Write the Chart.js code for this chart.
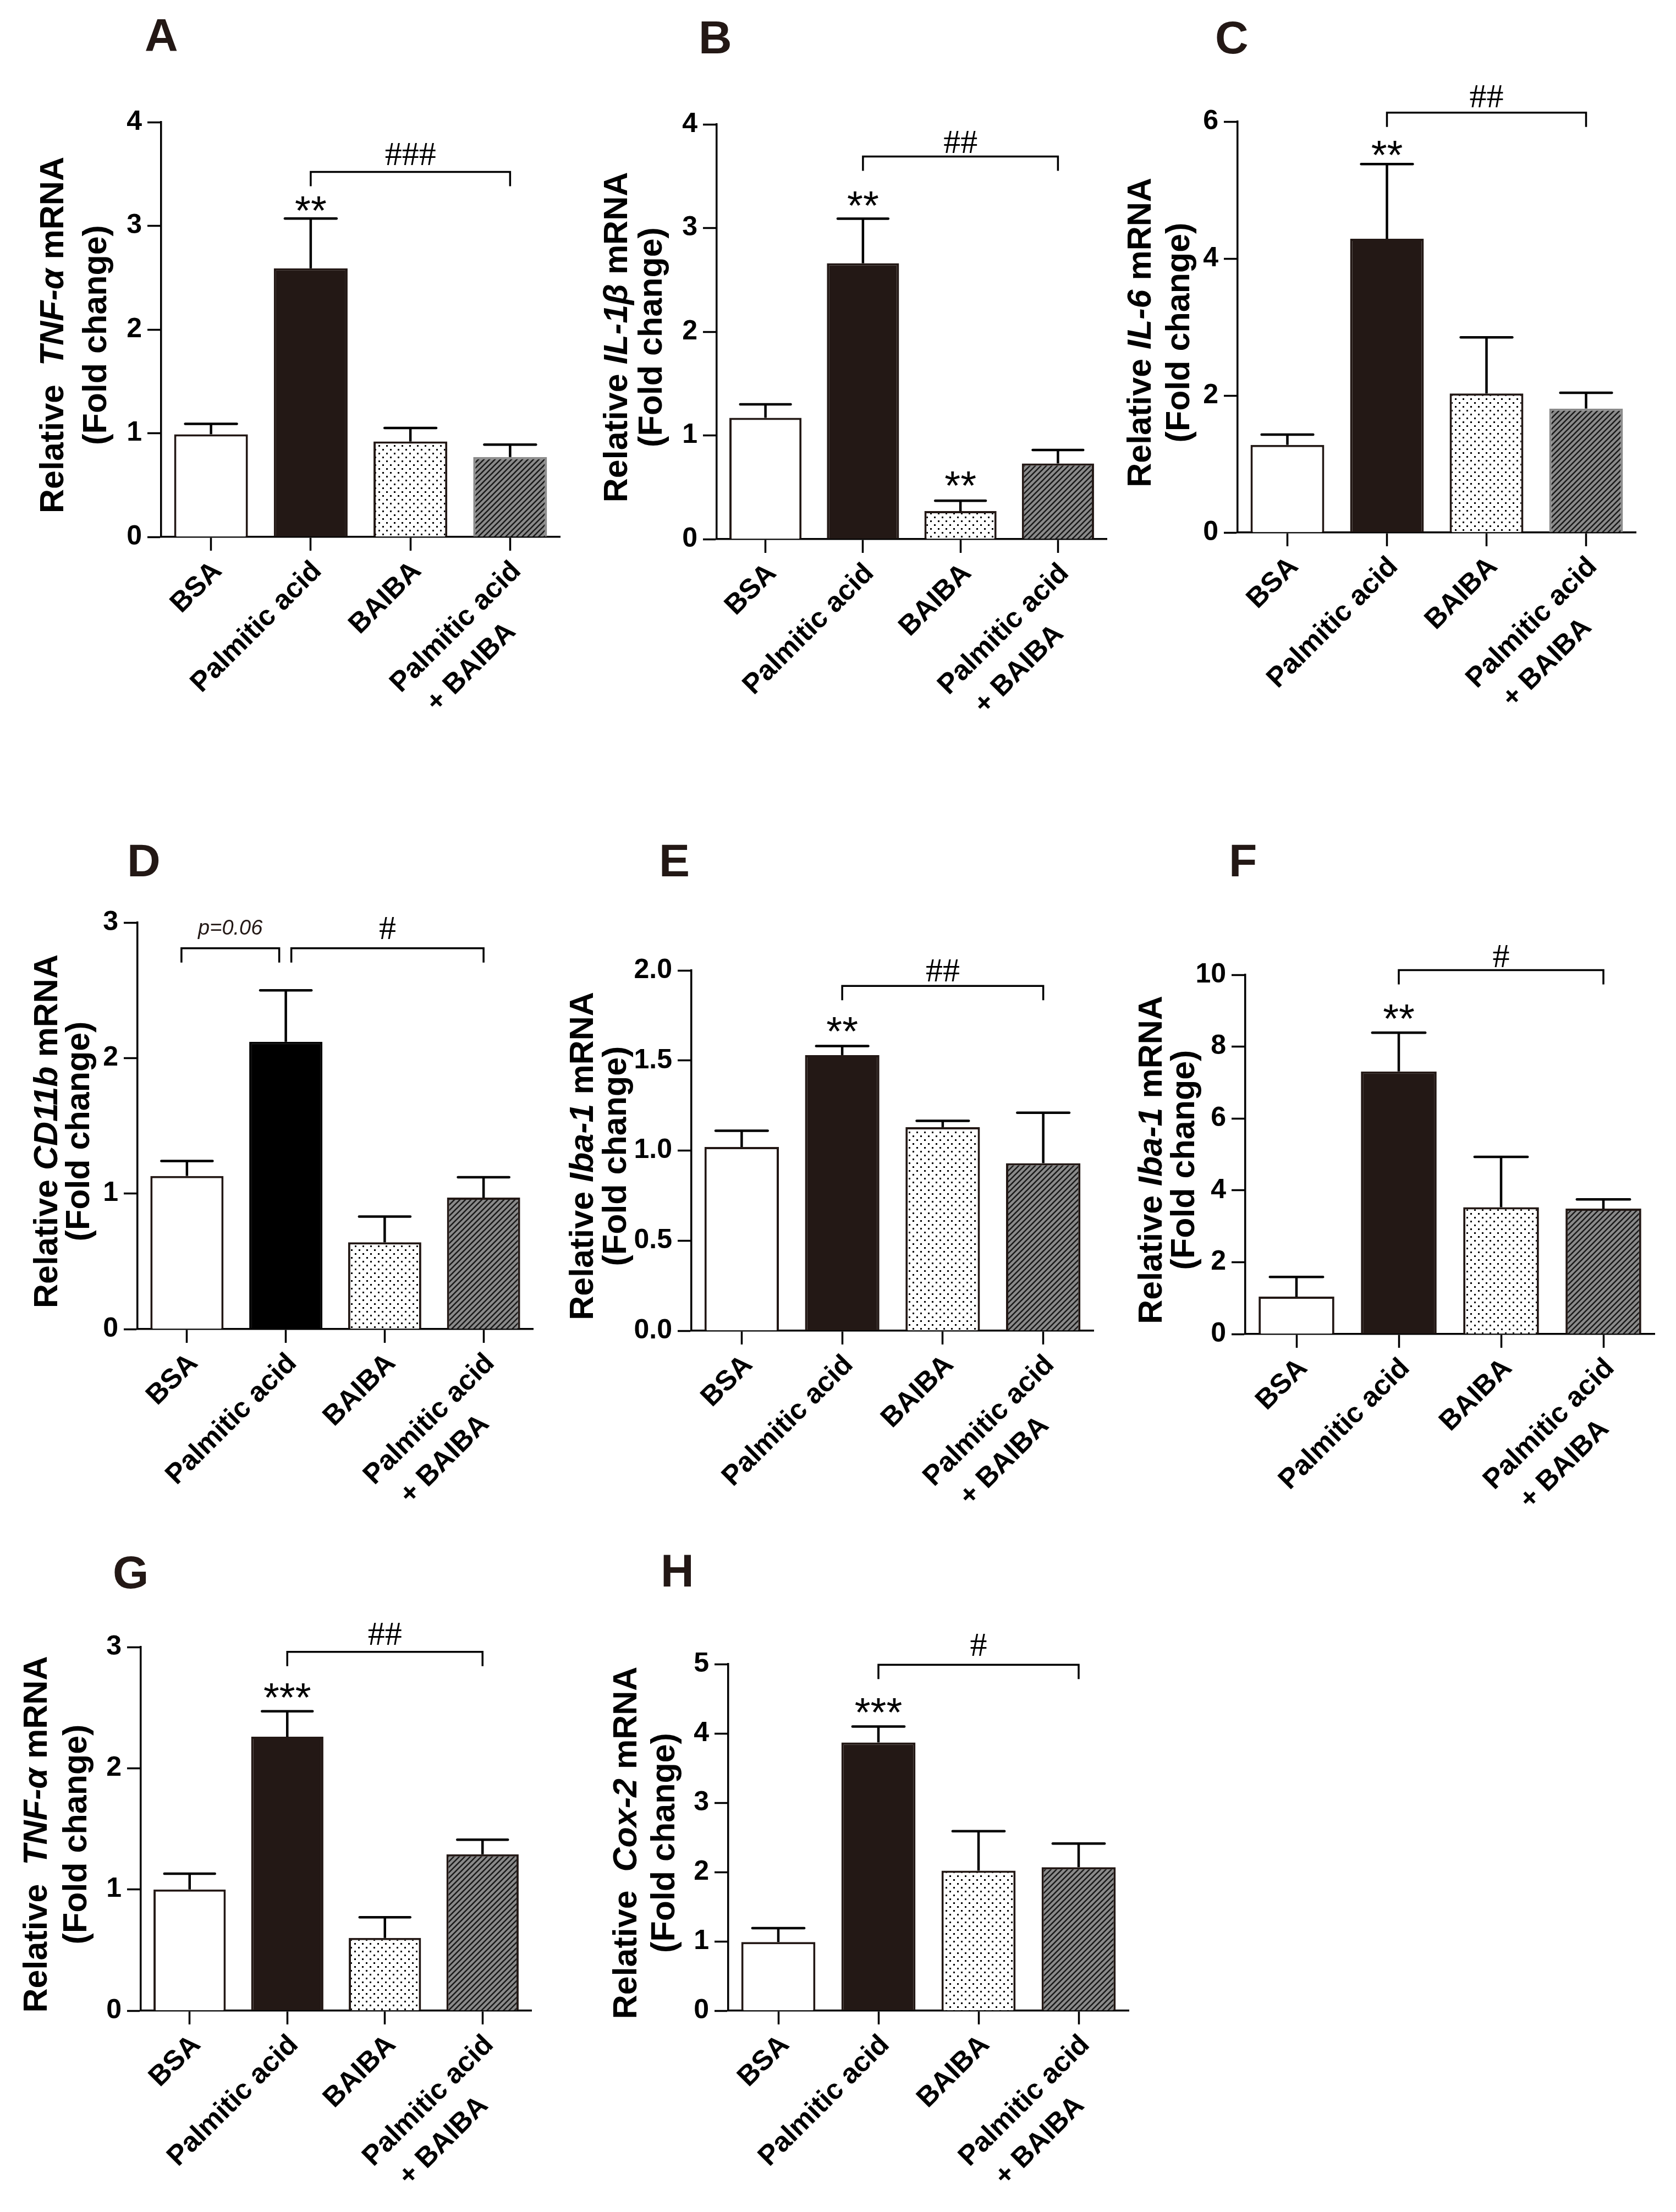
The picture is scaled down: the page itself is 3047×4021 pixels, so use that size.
<!DOCTYPE html>
<html>
<head>
<meta charset="utf-8">
<title>BAIBA mRNA panels</title>
<script src="https://cdn.jsdelivr.net/npm/chart.js@4.4.1/dist/chart.umd.min.js"></script>
<style>
    html, body { margin: 0; padding: 0; background: #fff; }
    #page { position: relative; width: 3047px; height: 4021px; overflow: hidden; background: #fff; }
    #page canvas { position: absolute; }
</style>
</head>
<body>
<div id="page"></div>
<script>
// 그룹 이름
const groups = ["BSA", "Palmitic acid", "BAIBA", ["Palmitic acid", "+ BAIBA"]];

// 평균값과 SEM
const tnfMean = [0.99, 2.59, 0.92, 0.77];
const tnfSem = [0.10, 0.48, 0.13, 0.12];
const il1bMean = [1.17, 2.66, 0.27, 0.73];
const il1bSem = [0.13, 0.43, 0.10, 0.13];
const il6Mean = [1.28, 4.29, 2.03, 1.81];
const il6Sem = [0.15, 1.09, 0.82, 0.23];
const cd11bMean = [1.13, 2.12, 0.64, 0.97];
const cd11bSem = [0.11, 0.38, 0.19, 0.15];
const iba1Mean = [1.02, 1.53, 1.13, 0.93];
const iba1Sem = [0.09, 0.05, 0.035, 0.28];
const iba1bMean = [1.04, 7.31, 3.53, 3.49];
const iba1bSem = [0.55, 1.08, 1.40, 0.26];
const tnf2Mean = [1.00, 2.26, 0.60, 1.29];
const tnf2Sem = [0.13, 0.21, 0.17, 0.12];
const cox2Mean = [0.99, 3.87, 2.02, 2.07];
const cox2Sem = [0.20, 0.23, 0.57, 0.34];

// y축 범위 / 눈금 간격
const yMax = { A: 4, B: 4, C: 6, D: 3, E: 2, F: 10, G: 3, H: 5 };
const yStep = { A: 1, B: 1, C: 2, D: 1, E: 0.5, F: 2, G: 1, H: 1 };

const FONT = '"Liberation Sans", Arial, Helvetica, sans-serif';
const SERIF = '"Liberation Serif", "Times New Roman", serif';
const DARK = "#231815";
const GREY = "#8a8a8a";

// 패턴 (점 / 빗금)
function makeDots() {
    const c = document.createElement("canvas");
    c.width = 14; c.height = 14;
    const g = c.getContext("2d");
    g.fillStyle = "#fff"; g.fillRect(0, 0, 14, 14);
    g.fillStyle = "#000";
    g.fillRect(0, 0, 3, 3);
    g.fillRect(7, 7, 3, 3);
    return g.createPattern(c, "repeat");
}
function makeHatch() {
    const c = document.createElement("canvas");
    c.width = 10; c.height = 10;
    const g = c.getContext("2d");
    g.fillStyle = GREY; g.fillRect(0, 0, 10, 10);
    g.strokeStyle = "#1a1a1a"; g.lineWidth = 2.6;
    g.beginPath();
    g.moveTo(-5, 15); g.lineTo(15, -5);
    g.moveTo(-5, 5); g.lineTo(5, -5);
    g.moveTo(5, 15); g.lineTo(15, 5);
    g.stroke();
    return g.createPattern(c, "repeat");
}

// 패널 배치 (페이지 좌표: 축 x, 위, 오른쪽 끝, 0 위치)
const panels = [
    { id: "A", box: [293, 222, 1018, 976], letter: [263, 33], mean: tnfMean, sem: tnfSem,
      gene: "TNF-α", pre: "Relative  ", t1: 178, t2: 100, pa: DARK, hatchEdge: false,
      stars: [[1, 3.21, "**"]], brackets: [[1, 3, 3.52, "###", 3.69, 0, 0, false]] },
    { id: "B", box: [1303, 226, 2012, 980], letter: [1270, 37], mean: il1bMean, sem: il1bSem,
      gene: "IL-1β", pre: "Relative ", t1: 163, t2: 100, pa: DARK, hatchEdge: true,
      stars: [[1, 3.28, "**"], [2, 0.58, "**"]], brackets: [[1, 3, 3.69, "##", 3.83, 0, 0, false]] },
    { id: "C", box: [2250, 221, 2974, 968], letter: [2209, 37], mean: il6Mean, sem: il6Sem,
      gene: "IL-6", pre: "Relative ", t1: 158, t2: 88, pa: DARK, hatchEdge: false,
      stars: [[1, 5.61, "**"]], brackets: [[1, 3, 6.13, "##", 6.37, 0, 0, false]] },
    { id: "D", box: [250, 1677, 969, 2416], letter: [231, 1533], mean: cd11bMean, sem: cd11bSem,
      gene: "CD11b", pre: "Relative ", t1: 146, t2: 88, pa: "#000", hatchEdge: true,
      stars: [],
      brackets: [[0, 1, 2.81, "p=0.06", 2.95, -10, -12, true], [1, 3, 2.81, "#", 2.96, 10, 0, false]] },
    { id: "E", box: [1257, 1764, 1988, 2419], letter: [1198, 1533], mean: iba1Mean, sem: iba1Sem,
      gene: "Iba-1", pre: "Relative ", t1: 179, t2: 119, pa: DARK, hatchEdge: true,
      stars: [[1, 1.70, "**"]], brackets: [[1, 3, 1.914, "##", 2.0, 0, 0, false]] },
    { id: "F", box: [2264, 1772, 3008, 2425], letter: [2234, 1533], mean: iba1bMean, sem: iba1bSem,
      gene: "Iba-1", pre: "Relative ", t1: 152, t2: 93, pa: DARK, hatchEdge: true,
      stars: [[1, 8.96, "**"]], brackets: [[1, 3, 10.13, "#", 10.52, 0, 0, false]] },
    { id: "G", box: [256, 2994, 966, 3655], letter: [205, 2827], mean: tnf2Mean, sem: tnf2Sem,
      gene: "TNF-α", pre: "Relative  ", t1: 171, t2: 99, pa: DARK, hatchEdge: true,
      stars: [[1, 2.64, "***"]], brackets: [[1, 3, 2.96, "##", 3.11, 0, 0, false]] },
    { id: "H", box: [1324, 3025, 2052, 3655], letter: [1201, 2824], mean: cox2Mean, sem: cox2Sem,
      gene: "Cox-2", pre: "Relative  ", t1: 167, t2: 98, pa: DARK, hatchEdge: true,
      stars: [[1, 4.40, "***"]], brackets: [[1, 3, 4.99, "#", 5.28, 0, 0, false]] },
];

const L = 270, T = 260, R = 40, B = 430;

function centerText(ctx, text, x, yc) {
    ctx.textAlign = "center";
    ctx.textBaseline = "alphabetic";
    const m = ctx.measureText(text);
    ctx.fillText(text, x, yc + (m.actualBoundingBoxAscent - m.actualBoundingBoxDescent) / 2);
}

function drawRotated(ctx, parts, xBase, yc) {
    ctx.save();
    ctx.translate(xBase, yc);
    ctx.rotate(-Math.PI / 2);
    ctx.textAlign = "left";
    ctx.textBaseline = "alphabetic";
    ctx.fillStyle = "#000";
    let total = 0;
    parts.forEach(([t, it]) => {
        ctx.font = (it ? "italic " : "") + "bold 61px " + FONT;
        total += ctx.measureText(t).width;
    });
    let x = -total / 2;
    parts.forEach(([t, it]) => {
        ctx.font = (it ? "italic " : "") + "bold 61px " + FONT;
        ctx.fillText(t, x, 0);
        x += ctx.measureText(t).width;
    });
    ctx.restore();
}

function overlay(p, ox, oy) {
    return {
        id: "overlay" + p.id,
        afterDatasetsDraw(chart) {
            // 오차 막대
            const ctx = chart.ctx, ys = chart.scales.y;
            const meta = chart.getDatasetMeta(0);
            ctx.save();
            ctx.strokeStyle = "#000";
            ctx.lineWidth = 4.5;
            meta.data.forEach((bar, i) => {
                const top = ys.getPixelForValue(p.mean[i] + p.sem[i]);
                const half = bar.width * 0.35;
                ctx.lineCap = "butt";
                ctx.beginPath(); ctx.moveTo(bar.x, bar.y); ctx.lineTo(bar.x, top); ctx.stroke();
                ctx.lineCap = "round";
                ctx.beginPath(); ctx.moveTo(bar.x - half, top); ctx.lineTo(bar.x + half, top); ctx.stroke();
            });
            ctx.restore();
        },
        afterDraw(chart) {
            const ctx = chart.ctx, ys = chart.scales.y, xs = chart.scales.x;
            const area = chart.chartArea;
            ctx.save();
            // 패널 문자
            ctx.fillStyle = DARK;
            ctx.font = "bold 84px " + FONT;
            ctx.textAlign = "left";
            ctx.textBaseline = "alphabetic";
            ctx.fillText(p.id, p.letter[0] - ox, p.letter[1] - oy + 60);

            // y축 제목
            const yc = (area.top + area.bottom) / 2 + 10;
            drawRotated(ctx, [[p.pre, false], [p.gene, true], [" mRNA", false]], area.left - p.t1, yc);
            drawRotated(ctx, [["(Fold change)", false]], area.left - p.t2, yc);

            // 별표
            ctx.fillStyle = "#000";
            ctx.font = "74px " + FONT;
            p.stars.forEach(([i, v, s]) => centerText(ctx, s, xs.getPixelForValue(i), ys.getPixelForValue(v)));

            // 비교 괄호
            ctx.strokeStyle = "#000";
            ctx.lineWidth = 3.5;
            ctx.lineCap = "butt";
            p.brackets.forEach(([a, b, v, label, tv, da, db, italic]) => {
                const xa = xs.getPixelForValue(a) + da;
                const xb = xs.getPixelForValue(b) + db;
                const y = ys.getPixelForValue(v);
                ctx.beginPath();
                ctx.moveTo(xa, y + 26); ctx.lineTo(xa, y); ctx.lineTo(xb, y); ctx.lineTo(xb, y + 26);
                ctx.stroke();
                ctx.font = italic ? "italic 38px " + FONT : "62px " + SERIF;
                ctx.fillStyle = italic ? DARK : "#000";
                centerText(ctx, label, (xa + xb) / 2, ys.getPixelForValue(tv));
            });
            ctx.restore();
        },
    };
}

const page = document.getElementById("page");
const dots = makeDots();
const hatch = makeHatch();

panels.forEach((p) => {
    const [ax, top, right, zero] = p.box;
    const ox = ax - L, oy = top - T;
    const canvas = document.createElement("canvas");
    canvas.width = right - ax + L + R;
    canvas.height = zero - top + T + B;
    canvas.style.left = ox + "px";
    canvas.style.top = oy + "px";
    canvas.style.width = canvas.width + "px";
    canvas.style.height = canvas.height + "px";
    page.appendChild(canvas);

    new Chart(canvas.getContext("2d"), {
        type: "bar",
        data: {
            labels: groups,
            datasets: [
                {
                    data: p.mean,
                    backgroundColor: ["#fff", p.pa, dots, hatch],
                    borderColor: [DARK, p.pa, DARK, p.hatchEdge ? DARK : GREY],
                    borderWidth: 4,
                    barPercentage: 0.74,
                    categoryPercentage: 1,
                },
            ],
        },
        options: {
            responsive: false,
            animation: false,
            devicePixelRatio: 1,
            layout: { padding: { left: 0, top: T, right: R, bottom: 0 } },
            plugins: { legend: { display: false }, tooltip: { enabled: false } },
            scales: {
                x: {
                    afterFit: (s) => { s.height = B; },
                    grid: { offset: false, drawOnChartArea: false, tickLength: 25, tickWidth: 3.5, color: "#000" },
                    border: { display: true, color: "#000", width: 3.5 },
                    ticks: {
                        color: "#000",
                        font: { family: FONT, size: 51, weight: "bold", lineHeight: 1.4 },
                        minRotation: 45,
                        maxRotation: 45,
                        autoSkip: false,
                        padding: 4,
                        labelOffset: 12,
                        callback: function (value) {
                            const lab = this.getLabelForValue(value);
                            return Array.isArray(lab) ? [lab[0], lab[1] + "\u00a0".repeat(6)] : lab;
                        },
                    },
                },
                y: {
                    min: 0,
                    max: yMax[p.id],
                    afterFit: (s) => { s.width = L; },
                    grid: { drawOnChartArea: false, tickLength: 25, tickWidth: 3.5, color: "#000" },
                    border: { display: true, color: "#000", width: 3.5 },
                    ticks: {
                        stepSize: yStep[p.id],
                        color: "#000",
                        padding: 10,
                        font: { family: FONT, size: 50, weight: "bold" },
                        callback: (v) => (p.id === "E" ? v.toFixed(1) : v),
                    },
                },
            },
        },
        plugins: [overlay(p, ox, oy)],
    });
});
</script>
</body>
</html>
